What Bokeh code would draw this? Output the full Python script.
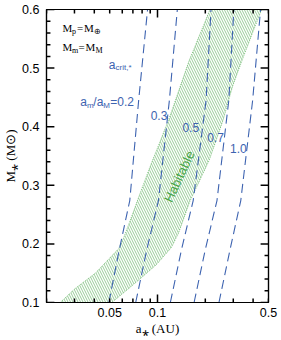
from bokeh.plotting import figure
from bokeh.models import (Range1d, FixedTicker, LinearAxis, LogAxis,
                          ColumnDataSource, CustomJSTickFormatter)
from bokeh.embed import file_html
from bokeh.resources import INLINE
from bokeh.core.properties import value

# ---------------- data ----------------
mass_levels = [0.1, 0.1887, 0.274, 0.445, 0.6]          # M_* (M_sun)
ratio_labels = ["0.2", "0.3", "0.5", "0.7", "1.0"]       # a_m / a_M
acrit_02 = [0.0494, 0.0573, 0.0669, 0.0761, 0.0866]      # a_crit,* (AU)
acrit_03 = [0.0729, 0.0854, 0.1014, 0.1188, 0.1333]
acrit_05 = [0.1205, 0.1412, 0.1678, 0.2023, 0.2173]
acrit_07 = [0.1700, 0.1994, 0.2369, 0.2812, 0.3025]
acrit_10 = [0.2438, 0.2855, 0.3345, 0.3973, 0.4457]

# habitable zone: inner edge (top -> bottom), outer edge (bottom -> top)
hz_inner_a = [0.2142, 0.1584, 0.1171, 0.0879, 0.0614, 0.0571, 0.0404, 0.0303, 0.0244]
hz_inner_m = [0.6, 0.513, 0.4106, 0.3253, 0.2109, 0.1922, 0.1495, 0.1239, 0.1]
hz_outer_a = [0.0516, 0.0659, 0.0795, 0.0986, 0.1223, 0.1352, 0.1607, 0.2112, 0.2582, 0.2981, 0.3594, 0.4523]
hz_outer_m = [0.1, 0.1239, 0.1427, 0.1648, 0.1939, 0.2177, 0.2741, 0.3423, 0.4106, 0.4703, 0.530, 0.6]

x_label_ticks = [0.05, 0.1, 0.5]
x_major_ticks = [0.1]
x_minor_ticks = [0.02, 0.03, 0.04, 0.05, 0.06, 0.07, 0.08, 0.09, 0.2, 0.3, 0.4, 0.5]
y_major_ticks = [0.1, 0.2, 0.3, 0.4, 0.5, 0.6]
y_minor_ticks = [0.12, 0.14, 0.16, 0.18, 0.22, 0.24, 0.26, 0.28, 0.32, 0.34, 0.36,
                 0.38, 0.42, 0.44, 0.46, 0.48, 0.52, 0.54, 0.56, 0.58]

BLUE = "#3d63b0"
GREEN = "#46a546"
SERIF = "Liberation Serif"
SANS = "Liberation Sans"

W, H = 281, 340
BL, BR, BT, BB = 43, 13, 9, 38
FW, FH = W - BL - BR, H - BT - BB
X0, X1, Y0, Y1 = 0.02, 0.5, 0.1, 0.6
p = figure(width=W, height=H, x_axis_type="log",
           x_range=Range1d(X0, X1), y_range=Range1d(Y0, Y1),
           output_backend="svg", toolbar_location=None,
           min_border_left=BL, min_border_right=BR, min_border_top=BT,
           min_border_bottom=BB)
p.xgrid.visible = False
p.ygrid.visible = False
p.outline_line_color = "black"
p.outline_line_width = 1.2
p.background_fill_color = "white"
p.border_fill_color = "white"

# habitable zone (hatched)
hz_a = hz_inner_a + hz_outer_a
hz_m = hz_inner_m + hz_outer_m
p.patch(hz_a, hz_m, fill_color=None, hatch_pattern="\\", hatch_color=GREEN,
        hatch_alpha=0.8, hatch_scale=5, hatch_weight=0.7,
        line_color=GREEN, line_alpha=0.8, line_width=0.8, line_dash="1 1")

# critical separation curves
for curve in [acrit_02, acrit_03, acrit_05, acrit_07, acrit_10]:
    p.line(curve, mass_levels, line_color=BLUE, line_width=1.1, line_dash="9 5")

p.text(x=[0.1372], y=[0.315], text=["Habitable"], angle=1.134,
       text_align="center", text_baseline="middle", text_color=GREEN,
       text_font_size="13px", text_font=value(SANS))


def rich(x, y, pieces, color, font, base=11, sub=8):
    src = ColumnDataSource(dict(
        x=[x] * len(pieces), y=[y] * len(pieces),
        text=[t for t, dx, s in pieces],
        xo=[dx for t, dx, s in pieces],
        yo=[3 if s else 0 for t, dx, s in pieces],
        fs=["%dpx" % (sub if s else base) for t, dx, s in pieces]))
    p.text("x", "y", text="text", source=src, x_offset="xo", y_offset="yo",
           text_font_size="fs", text_color=color, text_font=value(font),
           text_baseline="alphabetic", text_align="left")


rich(0.0252, 0.5676, [("M", 0, False), ("p", 9.5, True), ("=", 14.5, False),
                      ("M", 21.5, False), ("\u2295", 31.5, True)], "black", SERIF)
rich(0.0252, 0.5352, [("M", 0, False), ("m", 9.5, True), ("=", 16, False),
                      ("M", 23, False), ("M", 33, True)], "black", SERIF)
rich(0.0494, 0.5061, [("a", 0, False), ("crit,*", 6.7, True)], BLUE, SANS, 12, 8)
rich(0.0326, 0.4413, [("a", 0, False), ("m", 6.7, True), ("/", 13, False),
                      ("a", 16.5, False), ("M", 23, True),
                      ("=" + ratio_labels[0], 30, False)], BLUE, SANS, 12, 8)

p.text(x=[0.1022, 0.1619, 0.2318, 0.3227], y=[0.419, 0.3986, 0.3816, 0.3628],
       text=ratio_labels[1:], text_align="center", text_baseline="alphabetic",
       text_color=BLUE, text_font_size="12px", text_font=value(SANS))

# inward tick marks on all four sides, as segments of fixed pixel length
MAJ, MIN = 8, 4
for xs, ln in [(x_major_ticks, MAJ), (x_minor_ticks, MIN)]:
    dy = (Y1 - Y0) * ln / FH
    n = len(xs)
    p.segment(xs, [Y0] * n, xs, [Y0 + dy] * n, line_color="black", line_width=1.5)
    p.segment(xs, [Y1] * n, xs, [Y1 - dy] * n, line_color="black", line_width=1.5)
for ys, ln in [(y_major_ticks, MAJ), (y_minor_ticks, MIN)]:
    f = (X1 / X0) ** (ln / FW)
    n = len(ys)
    p.segment([X0] * n, ys, [X0 * f] * n, ys, line_color="black", line_width=1.5)
    p.segment([X1] * n, ys, [X1 / f] * n, ys, line_color="black", line_width=1.5)

# axes (labels only)
xax = p.xaxis[0]
xax.ticker = FixedTicker(ticks=x_label_ticks, minor_ticks=[])
xax.axis_label = "a\u204e (AU)"
yax = p.yaxis[0]
yax.ticker = FixedTicker(ticks=y_major_ticks, minor_ticks=[])
yax.axis_label = "M\u204e (M\u2299)"

top = LogAxis(ticker=FixedTicker(ticks=x_major_ticks, minor_ticks=[]),
              formatter=CustomJSTickFormatter(code="return ''"))
right = LinearAxis(ticker=FixedTicker(ticks=y_major_ticks, minor_ticks=[]),
                   formatter=CustomJSTickFormatter(code="return ''"))
p.add_layout(top, "above")
p.add_layout(right, "right")

for ax in [xax, yax, top, right]:
    ax.major_tick_in = 0
    ax.major_tick_out = 0
    ax.minor_tick_in = 0
    ax.minor_tick_out = 0
    ax.axis_line_color = "black"
    ax.axis_line_width = 1.2
    ax.major_label_text_font = SANS
    ax.major_label_text_font_size = "12.5px"
    ax.major_label_text_color = "black"
    ax.axis_label_text_font = SERIF
    ax.axis_label_text_font_style = "normal"
    ax.axis_label_text_font_size = "13px"
    ax.axis_label_text_color = "black"
for ax in [top, right]:
    ax.major_label_standoff = 0
xax.major_label_standoff = 5
xax.axis_label_standoff = 1
yax.major_label_standoff = 7
yax.axis_label_standoff = 1

open("out.html", "w").write(file_html(p, INLINE))
